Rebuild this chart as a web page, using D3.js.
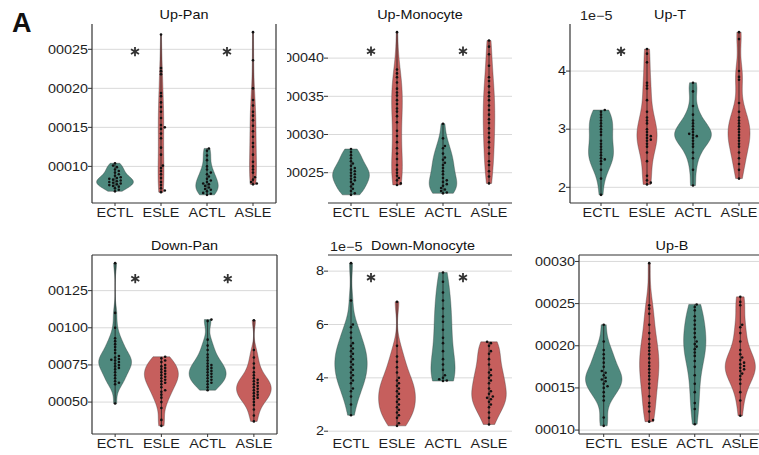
<!DOCTYPE html>
<html><head><meta charset="utf-8">
<script src="https://cdn.jsdelivr.net/npm/d3@7"></script>
<style>body{margin:0;background:#fff}svg text{font-family:"Liberation Sans",Arial,Helvetica,sans-serif}</style>
</head><body><svg id="c" width="759" height="455"></svg>
<script>
// ---------------- DATA (values in units of 1e-5) ----------------
const groups = ["ECTL","ESLE","ACTL","ASLE"];
const panelTitles = ["Up-Pan","Up-Monocyte","Up-T","Down-Pan","Down-Monocyte","Up-B"];

const upPanECTL = [6.8,7.0,7.2,7.4,7.5,7.6,7.7,7.8,7.9,8.0,8.1,8.2,8.3,8.4,8.5,8.6,8.8,9.0,9.2,9.4,9.6,9.9,10.1,10.4];
const upPanESLE = [6.7,6.9,7.2,7.6,8.0,8.5,9.0,9.4,9.8,10.1,11.5,12.4,13.6,14.2,14.8,15.0,15.3,16.2,17.0,17.6,18.2,19.0,19.4,21.8,22.2,22.6,26.9];
const upPanACTL = [6.35,6.5,6.6,6.8,7.0,7.1,7.3,7.5,7.7,7.8,8.0,8.2,8.4,8.7,9.0,9.2,9.6,10.0,10.8,11.4,12.0,12.3];
const upPanASLE = [7.7,7.8,8.0,8.3,8.6,9.2,9.6,10.0,10.6,11.5,12.5,13.0,13.8,14.5,15.2,15.9,16.5,17.0,17.8,18.5,20.0,23.6,27.2];

const upMonoECTL = [22.1,22.3,22.6,22.9,23.2,23.5,23.8,24.0,24.2,24.4,24.6,24.8,25.0,25.2,25.4,25.6,25.9,26.2,26.5,26.9,27.3,27.7,28.1];
const upMonoESLE = [23.4,23.6,24.0,24.3,24.6,25.0,25.4,26.0,26.8,27.5,28.2,29.0,29.8,30.5,31.6,32.4,33.0,33.4,34.0,34.5,35.1,35.5,36.0,36.8,37.5,38.0,38.5,43.4];
const upMonoACTL = [22.3,22.4,22.6,22.8,23.0,23.3,23.5,23.8,24.0,24.3,24.8,25.2,25.6,26.0,26.3,26.7,27.0,27.5,28.2,28.5,29.5,31.4];
const upMonoASLE = [23.6,24.5,25.2,26.0,26.5,27.5,28.3,29.0,29.6,30.2,30.8,31.5,32.0,32.6,33.2,33.8,34.5,35.0,35.5,36.3,37.0,37.5,39.0,40.5,41.5,42.3];

const upTECTL = [1.87,2.15,2.3,2.4,2.45,2.48,2.5,2.55,2.6,2.65,2.7,2.75,2.8,2.9,2.95,3.0,3.05,3.1,3.15,3.2,3.25,3.3,3.33];
const upTESLE = [2.05,2.08,2.12,2.2,2.45,2.6,2.7,2.75,2.8,2.82,2.85,2.88,2.9,2.95,3.0,3.1,3.15,3.2,3.3,3.5,3.7,3.75,3.8,4.15,4.3,4.38];
const upTACTL = [2.03,2.3,2.5,2.6,2.7,2.75,2.8,2.85,2.88,2.9,2.92,2.95,3.0,3.05,3.1,3.15,3.25,3.4,3.65,3.8];
const upTASLE = [2.15,2.3,2.4,2.5,2.6,2.7,2.75,2.8,2.85,2.9,2.95,3.0,3.05,3.1,3.15,3.2,3.3,3.45,3.85,3.9,4.0,4.55,4.67];

const downPanECTL = [49,62,63,64,66,68,70,72,73,74,75,76,77,78,78.5,79,80,81,83,85,87,89,91,93,100,110,143.5];
const downPanESLE = [34,38,46,50,53,55,57,58,60,62,63,64,65,66,67,68,69,70,71,72,73,74,75,77,78,79.5,80.5];
const downPanACTL = [58,60,62,63,64,65,66,67,68,69,70,71,72,73,74,75,76,78,80,82,85,88,92,104.5,105.5];
const downPanASLE = [37,41,45,48,50,52,53,54,55,56,57,58,59,60,61,62,63,64,65,66,68,70,73,76,80,85,105];

const downMonoECTL = [2.6,3.0,3.3,3.5,3.6,3.8,3.9,4.0,4.1,4.2,4.3,4.4,4.5,4.6,4.7,4.8,4.9,5.0,5.1,5.2,5.3,5.5,5.7,5.9,6.0,6.9,8.3];
const downMonoESLE = [2.2,2.3,2.5,2.6,2.7,2.8,2.9,3.0,3.1,3.2,3.3,3.4,3.5,3.6,3.7,3.8,3.9,4.0,4.2,4.4,4.6,4.8,5.2,6.85];
const downMonoACTL = [3.88,3.9,3.95,4.0,4.1,4.3,4.5,4.7,5.0,5.3,5.5,5.8,6.1,6.3,6.6,6.9,7.2,7.6,7.95];
const downMonoASLE = [2.25,2.5,2.7,2.9,3.0,3.1,3.2,3.25,3.3,3.4,3.5,3.6,3.8,3.9,4.0,4.1,4.2,4.3,4.5,4.7,4.9,5.0,5.2,5.3,5.35];

const upBECTL = [10.5,11.5,13.5,14.0,14.5,15.0,15.2,15.5,15.8,16.0,16.2,16.5,16.8,17.0,17.5,18.0,18.5,19.0,19.5,20.5,22.5];
const upBESLE = [11.0,11.2,12.2,12.8,13.2,14.0,15.0,15.5,16.0,16.4,16.8,17.2,17.6,18.0,18.5,19.0,19.4,19.8,20.2,20.8,21.5,22.5,23.8,24.4,24.8,29.8];
const upBACTL = [10.7,12.5,13.2,14.5,15.5,16.5,17.5,18.2,18.8,19.2,19.6,19.9,20.2,20.5,21.0,21.5,22.0,22.5,23.0,23.5,24.2,24.6,24.9];
const upBASLE = [11.7,13.5,14.5,15.5,16.0,16.4,16.7,17.0,17.2,17.4,17.6,17.8,18.0,18.3,18.6,19.0,19.5,20.5,21.5,22.2,22.5,24.8,25.2,25.8];

const tickValues = [[10,15,20,25],[25,30,35,40],[2,3,4],[50,75,100,125],[2,4,6,8],[10,15,20,25,30]];
const tickLabels = [["00010","00015","00020","00025"],["00025","00030","00035","00040"],["2","3","4"],
                    ["00050","00075","00100","00125"],["2","4","6","8"],["00010","00015","00020","00025","00030"]];
const offsetLabels = [null,null,"1e\u22125",null,"1e\u22125",null];
// significance stars: [pair, level (1e-5 units)]
const starPairs = [[["ECTL","ESLE"],["ACTL","ASLE"]],[["ECTL","ESLE"],["ACTL","ASLE"]],[["ECTL","ESLE"]],
                   [["ECTL","ESLE"],["ACTL","ASLE"]],[["ECTL","ESLE"],["ACTL","ASLE"]],[]];
const starLevels = [24.7,40.9,4.34,133,7.76,null];

const panelData = [
  [upPanECTL,upPanESLE,upPanACTL,upPanASLE],
  [upMonoECTL,upMonoESLE,upMonoACTL,upMonoASLE],
  [upTECTL,upTESLE,upTACTL,upTASLE],
  [downPanECTL,downPanESLE,downPanACTL,downPanASLE],
  [downMonoECTL,downMonoESLE,downMonoACTL,downMonoASLE],
  [upBECTL,upBESLE,upBACTL,upBASLE]
];

// ---------------- LAYOUT / STYLE ----------------
const layout = [
  {x0:92, x1:276, y0:24, y1:203, pad:0.5,  frame:"lrb", clipLabel:null},
  {x0:328,x1:512, y0:24, y1:203, pad:0.5,  frame:"b",   clipLabel:287},
  {x0:570,x1:770, y0:24, y1:203, pad:0.674,frame:"lb",  clipLabel:null},
  {x0:92, x1:277, y0:255,y1:434, pad:0.5,  frame:"lrtb",clipLabel:null},
  {x0:328,x1:512, y0:255,y1:434, pad:0.5,  frame:"t",   clipLabel:null},
  {x0:579,x1:765, y0:255,y1:434, pad:0.543,frame:"ltb", clipLabel:null}
];
const colorScale = d3.scaleOrdinal().domain(groups).range(["#4e897e","#c65f5d","#4e897e","#c65f5d"]);
const FS = 12, SX = 1.2, axisCol = "#333";

const svg = d3.select("#c");

function stretchedText(g, x, y, txt, anchor, size, col) {
  return g.append("text").attr("transform", `translate(${x},${y}) scale(${SX},1)`)
    .attr("text-anchor", anchor).attr("font-size", size).attr("fill", col || "#1a1a1a").text(txt);
}
function nrd0(v) {
  const s = d3.sort(v);
  const sd = d3.deviation(s);
  const iqr = d3.quantile(s, 0.75) - d3.quantile(s, 0.25);
  let lo = Math.min(sd, iqr / 1.34);
  if (!lo) lo = sd || 1;
  return 0.9 * lo * Math.pow(s.length, -0.2);
}
function kde(v) {
  const bw = nrd0(v), lo = d3.min(v), hi = d3.max(v), n = 200;
  const pts = [];
  for (let i = 0; i <= n; i++) {
    const t = lo + (hi - lo) * i / n;
    let s = 0;
    for (const x of v) { const z = (t - x) / bw; s += Math.exp(-0.5 * z * z); }
    pts.push({v: t, d: s / (v.length * bw * Math.sqrt(2 * Math.PI))});
  }
  return pts;
}
function swarm(vals, y, r) {
  const sorted = d3.sort(vals);
  const placed = [];
  const minD = 2 * r + 0.2, step = 1.9;
  const offs = [0]; for (let k = 1; k < 4; k++) { offs.push(k * step, -k * step); }
  for (const v of sorted) {
    const py = y(v);
    let ox = 0;
    for (const o of offs) {
      if (placed.every(p => (p.x - o) ** 2 + (p.y - py) ** 2 >= minD * minD)) { ox = o; break; }
    }
    placed.push({x: ox, y: py, v});
  }
  return placed;
}

panelData.forEach((series, pi) => {
  const L = layout[pi];
  const g = svg.append("g");
  const all = series.flat();
  const [mn, mx] = d3.extent(all);
  const ex = (mx - mn) * 0.05;
  const y = d3.scaleLinear().domain([mn - ex, mx + ex]).range([L.y1, L.y0]);
  const x = d3.scalePoint().domain(groups).range([L.x0, L.x1]).padding(L.pad);
  const stepW = x.step();

  const clipId = "clip" + pi;
  svg.append("clipPath").attr("id", clipId).append("rect")
    .attr("x", L.x0).attr("y", L.y0).attr("width", Math.min(L.x1, 759) - L.x0).attr("height", L.y1 - L.y0);
  const pg = g.append("g").attr("clip-path", `url(#${clipId})`);

  // gridlines
  pg.selectAll("line.grid").data(tickValues[pi]).join("line")
    .attr("x1", L.x0).attr("x2", L.x1).attr("y1", d => y(d)).attr("y2", d => y(d))
    .attr("stroke", "#d9d9d9").attr("stroke-width", 1);

  // violins
  const dens = series.map(kde);
  const maxD = d3.max(dens.flat(), d => d.d);
  const wScale = d3.scaleLinear().domain([0, maxD]).range([0, 0.4 * stepW]);
  series.forEach((vals, gi) => {
    const cx = x(groups[gi]);
    const area = d3.area().y(d => y(d.v)).x0(d => cx - wScale(d.d)).x1(d => cx + wScale(d.d));
    pg.append("path").attr("d", area(dens[gi])).attr("fill", colorScale(groups[gi]))
      .attr("stroke", "#333").attr("stroke-opacity", 0.6).attr("stroke-width", 0.6);
    pg.append("line").attr("x1", cx).attr("x2", cx).attr("y1", y(d3.min(vals))).attr("y2", y(d3.max(vals)))
      .attr("stroke", "#222").attr("stroke-width", 0.8);
    const r = 1.3;
    pg.selectAll(null).data(swarm(vals, y, r)).join("circle")
      .attr("cx", d => cx + d.x).attr("cy", d => d.y).attr("r", r).attr("fill", "#111");
  });

  // frame
  const fr = L.frame, fx1 = Math.min(L.x1, 759.5);
  const seg = (a, b, c, d) => g.append("line").attr("x1", a).attr("y1", b).attr("x2", c).attr("y2", d)
    .attr("stroke", axisCol).attr("stroke-width", 1.2);
  if (fr.includes("l")) seg(L.x0, L.y0, L.x0, L.y1);
  if (fr.includes("r")) seg(L.x1, L.y0, L.x1, L.y1);
  if (fr.includes("t")) seg(L.x0, L.y0, fx1, L.y0);
  if (fr.includes("b")) seg(L.x0, L.y1, fx1, L.y1);

  // y ticks + labels
  const lg = g.append("g");
  if (L.clipLabel) {
    svg.append("clipPath").attr("id", "lc" + pi).append("rect")
      .attr("x", L.clipLabel).attr("y", 0).attr("width", 759).attr("height", 455);
    lg.attr("clip-path", `url(#lc${pi})`);
  }
  tickValues[pi].forEach((t, ti) => {
    g.append("line").attr("x1", L.x0 - 4).attr("x2", L.x0).attr("y1", y(t)).attr("y2", y(t))
      .attr("stroke", axisCol).attr("stroke-width", 1);
    stretchedText(lg, L.x0 - 4, y(t) + 4.3, tickLabels[pi][ti], "end", FS, "#1e1e1e");
  });

  // x ticks + labels
  groups.forEach(gname => {
    if (fr.includes("b")) g.append("line").attr("x1", x(gname)).attr("x2", x(gname))
      .attr("y1", L.y1).attr("y2", L.y1 + 3).attr("stroke", axisCol).attr("stroke-width", 1);
    stretchedText(g, x(gname), L.y1 + 14, gname, "middle", FS, "#1e1e1e");
  });

  // title
  stretchedText(g, (L.x0 + L.x1) / 2 + (pi === 4 ? 3 : 0), L.y0 - 5, panelTitles[pi], "middle", FS, "#111");
  if (offsetLabels[pi]) stretchedText(g, L.x0 + (pi === 2 ? 10 : 2), L.y0 - 4, offsetLabels[pi], "start", FS, "#1e1e1e");

  // stars
  starPairs[pi].forEach(pair => {
    const sx = (x(pair[0]) + x(pair[1])) / 2 - 3;
    g.append("path").attr("transform", `translate(${sx},${y(starLevels[pi])})`)
      .attr("d", d3.symbol(d3.symbolAsterisk, 60)()).attr("stroke", "#333").attr("stroke-width", 1.8).attr("fill", "none");
  });
});

// panel letter
svg.append("text").attr("x", 12).attr("y", 32).attr("font-size", 27).attr("font-weight", "bold")
  .attr("fill", "#111").text("A");
</script></body></html>
